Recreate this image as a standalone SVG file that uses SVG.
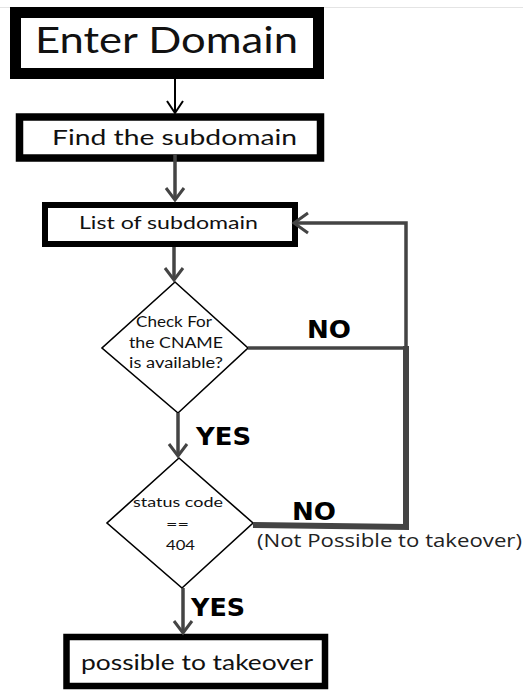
<svg xmlns="http://www.w3.org/2000/svg" width="523" height="691" viewBox="0 0 523 691">
<style>
.box{fill:#fff;stroke:#000}
.dia{fill:#fff;stroke:#000;stroke-width:1.6}
.t{font-family:Lato,"Liberation Sans",sans-serif;fill:#111}
.lbl{font-family:"DejaVu Sans",Verdana,sans-serif;font-weight:bold;fill:#000}
.conn{fill:none;stroke:#444;stroke-width:3.5}
.head{fill:none;stroke:#444;stroke-width:3;stroke-linejoin:miter}
</style>
<rect width="523" height="691" fill="#fff"/>
<line x1="0" y1="7.5" x2="523" y2="7.5" stroke="#e4e4e4" stroke-width="1"/>
<g id="enter-domain">
<rect class="box" x="15.5" y="12.5" width="303" height="61" stroke-width="11"/>
<text class="t" x="35" y="53" font-size="37" textLength="263" lengthAdjust="spacingAndGlyphs">Enter Domain</text>
</g>
<g id="find-subdomain">
<rect class="box" x="19.5" y="117" width="301" height="41" stroke-width="7.5"/>
<text class="t" x="52" y="145" font-size="22" textLength="245" lengthAdjust="spacingAndGlyphs">Find the subdomain</text>
</g>
<g id="list-subdomain">
<rect class="box" x="45" y="205" width="250" height="39" stroke-width="6"/>
<text class="t" x="79" y="229" font-size="18" textLength="179" lengthAdjust="spacingAndGlyphs">List of subdomain</text>
</g>
<g id="check-cname">
<polygon class="dia" points="175,282 248,348 178,413 102,348"/>
<text class="t" x="136" y="327" font-size="14.5" textLength="76" lengthAdjust="spacingAndGlyphs">Check For</text>
<text class="t" x="129" y="348" font-size="14.5" textLength="94" lengthAdjust="spacingAndGlyphs">the CNAME</text>
<text class="t" x="129" y="368" font-size="14.5" textLength="94" lengthAdjust="spacingAndGlyphs">is available?</text>
</g>
<g id="status-code">
<polygon class="dia" points="179,458 253,523 182,588 107,523"/>
<text class="t" x="133" y="507" font-size="13" textLength="90" lengthAdjust="spacingAndGlyphs">status code</text>
<text class="t" x="166" y="529" font-size="13" textLength="23" lengthAdjust="spacingAndGlyphs">==</text>
<text class="t" x="166" y="550" font-size="13" textLength="29" lengthAdjust="spacingAndGlyphs">404</text>
</g>
<g id="possible-takeover">
<rect class="box" x="66.5" y="637" width="258.5" height="49" stroke-width="6.5"/>
<text class="t" x="81" y="670" font-size="22" textLength="232" lengthAdjust="spacingAndGlyphs">possible to takeover</text>
</g>
<g id="connectors">
<line x1="175" y1="78" x2="175" y2="112" stroke="#000" stroke-width="2"/>
<path d="M167,101 L175,113 L183,101" fill="none" stroke="#000" stroke-width="2"/>
<line class="conn" x1="175" y1="154" x2="175" y2="199"/>
<path class="head" d="M166,188 L175,200 L184,188"/>
<line class="conn" x1="174" y1="247" x2="174" y2="278"/>
<path class="head" d="M165,268 L174,280 L183,268"/>
<path class="conn" d="M248,348 L406,348"/>
<path class="conn" d="M406,348 L406,223 L295,223"/>
<path class="head" d="M308,213 L294,223 L308,233"/>
<path d="M406,346 L406,527 L253,525" fill="none" stroke="#444" stroke-width="6"/>
<line class="conn" x1="178" y1="413" x2="178" y2="454"/>
<path class="head" d="M169,444 L178,456 L187,444"/>
<line class="conn" x1="183" y1="588" x2="183" y2="631"/>
<path class="head" d="M174,621 L183,633 L192,621"/>
<text class="lbl" x="307" y="338" font-size="25" textLength="44" lengthAdjust="spacingAndGlyphs">NO</text>
<text class="lbl" x="196" y="445" font-size="25" textLength="55" lengthAdjust="spacingAndGlyphs">YES</text>
<text class="lbl" x="292" y="520" font-size="25" textLength="44" lengthAdjust="spacingAndGlyphs">NO</text>
<text x="257" y="547" font-family="'Open Sans','Noto Sans',sans-serif" font-size="18" fill="#222" textLength="265" lengthAdjust="spacingAndGlyphs">(Not Possible to takeover)</text>
<text class="lbl" x="191" y="616" font-size="25" textLength="54" lengthAdjust="spacingAndGlyphs">YES</text>
</g>
</svg>
